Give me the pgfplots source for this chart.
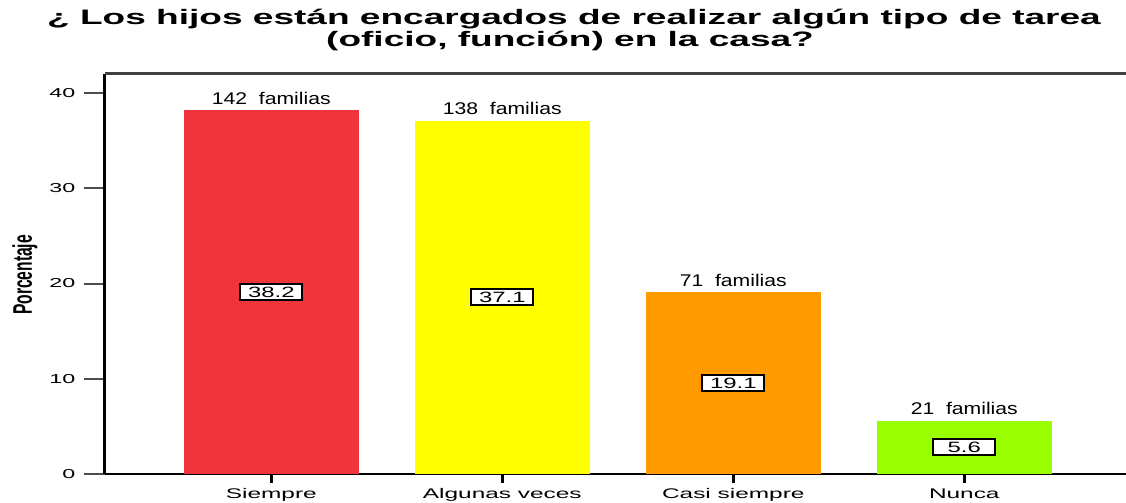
\documentclass[border=0pt]{standalone}
\usepackage{fontspec}
\setmainfont{Liberation Sans}
\usepackage{pgfplots}
\pgfplotsset{compat=1.18}
\definecolor{cRed}{RGB}{240,52,60}
\definecolor{cYel}{RGB}{255,255,0}
\definecolor{cOra}{RGB}{255,154,0}
\definecolor{cGre}{RGB}{153,255,0}
\newcommand{\sx}[2]{\scalebox{#1}[1]{#2}}
\begin{document}
\begin{tikzpicture}
\useasboundingbox (-105bp,-29bp) rectangle (1021bp,474bp);
\begin{axis}[at={(0,0)}, anchor=south west, scale only axis,
  width=1021bp, height=400bp,
  xmin=-0.72, xmax=3.70, ymin=0, ymax=42,
  clip=false,
  axis line style={draw=none},
  tick pos=left, tick align=outside,
  xtick={0,1,2,3},
  xticklabels={\sx{1.75}{Siempre}, \sx{1.75}{Algunas veces}, \sx{1.75}{Casi siempre}, \sx{1.75}{Nunca}},
  ytick={0,10,20,30,40},
  xtick style={draw=black, line width=2.5bp, /pgfplots/major tick length=9bp},
  ytick style={draw=black!70, line width=2bp, /pgfplots/major tick length=21bp},
  xticklabel style={font=\fontsize{14}{16}\selectfont, yshift=-7bp},
  yticklabel style={font=\fontsize{13}{15}\selectfont, xshift=-22bp},
  /pgf/number format/assume math mode=true,
  yticklabel={\sx{1.8}{\pgfmathprintnumber{\tick}}},
]
\draw[black, line width=2bp] (rel axis cs:0,0) -- (rel axis cs:1,0);
\addplot[ybar, bar width=0.76, bar shift=0pt, fill=cRed, draw=none, point meta=explicit symbolic,
  nodes near coords={\sx{1.25}{\pgfplotspointmeta\ \ familias}},
  every node near coord/.append style={font=\fontsize{17}{19}\selectfont, anchor=base, inner sep=0pt, yshift=6bp}]
  coordinates {(0,38.2) [142]};
\addplot[ybar, bar width=0.76, bar shift=0pt, fill=cYel, draw=none, point meta=explicit symbolic,
  nodes near coords={\sx{1.25}{\pgfplotspointmeta\ \ familias}},
  every node near coord/.append style={font=\fontsize{17}{19}\selectfont, anchor=base, inner sep=0pt, yshift=6bp}]
  coordinates {(1,37.1) [138]};
\addplot[ybar, bar width=0.76, bar shift=0pt, fill=cOra, draw=none, point meta=explicit symbolic,
  nodes near coords={\sx{1.25}{\pgfplotspointmeta\ \ familias}},
  every node near coord/.append style={font=\fontsize{17}{19}\selectfont, anchor=base, inner sep=0pt, yshift=6bp}]
  coordinates {(2,19.1) [71]};
\addplot[ybar, bar width=0.76, bar shift=0pt, fill=cGre, draw=none, point meta=explicit symbolic,
  nodes near coords={\sx{1.25}{\pgfplotspointmeta\ \ familias}},
  every node near coord/.append style={font=\fontsize{17}{19}\selectfont, anchor=base, inner sep=0pt, yshift=6bp}]
  coordinates {(3,5.6) [21]};
\addplot[draw=none, mark=none, point meta=explicit symbolic,
  nodes near coords={\sx{1.6}{\pgfplotspointmeta}},
  every node near coord/.append style={anchor=center, fill=white, draw=black, line width=2bp,
    inner sep=0pt, minimum width=62bp, minimum height=16bp, font=\fontsize{15}{17}\selectfont}]
  coordinates {(0,19.1) [38.2] (1,18.55) [37.1] (2,9.55) [19.1] (3,2.83) [5.6]};
\draw[black, line width=3bp] (rel axis cs:0,0) -- (rel axis cs:0,1);
\draw[black!75, line width=3bp] (rel axis cs:0,1) -- (rel axis cs:1,1);
\end{axis}
\node[anchor=base, font=\bfseries\fontsize{21}{25}\selectfont, inner sep=0pt] at (469bp,449bp)
  {\sx{1.77}{¿ Los hijos están encargados de realizar algún tipo de tarea}};
\node[anchor=base, font=\bfseries\fontsize{21}{25}\selectfont, inner sep=0pt] at (465bp,427bp)
  {\sx{1.77}{(oficio, función) en la casa?}};
\node[rotate=90, anchor=center, font=\bfseries\fontsize{27}{29}\selectfont, inner sep=0pt] at (-80bp,199bp)
  {\sx{0.58}{Porcentaje}};
\end{tikzpicture}
\end{document}
